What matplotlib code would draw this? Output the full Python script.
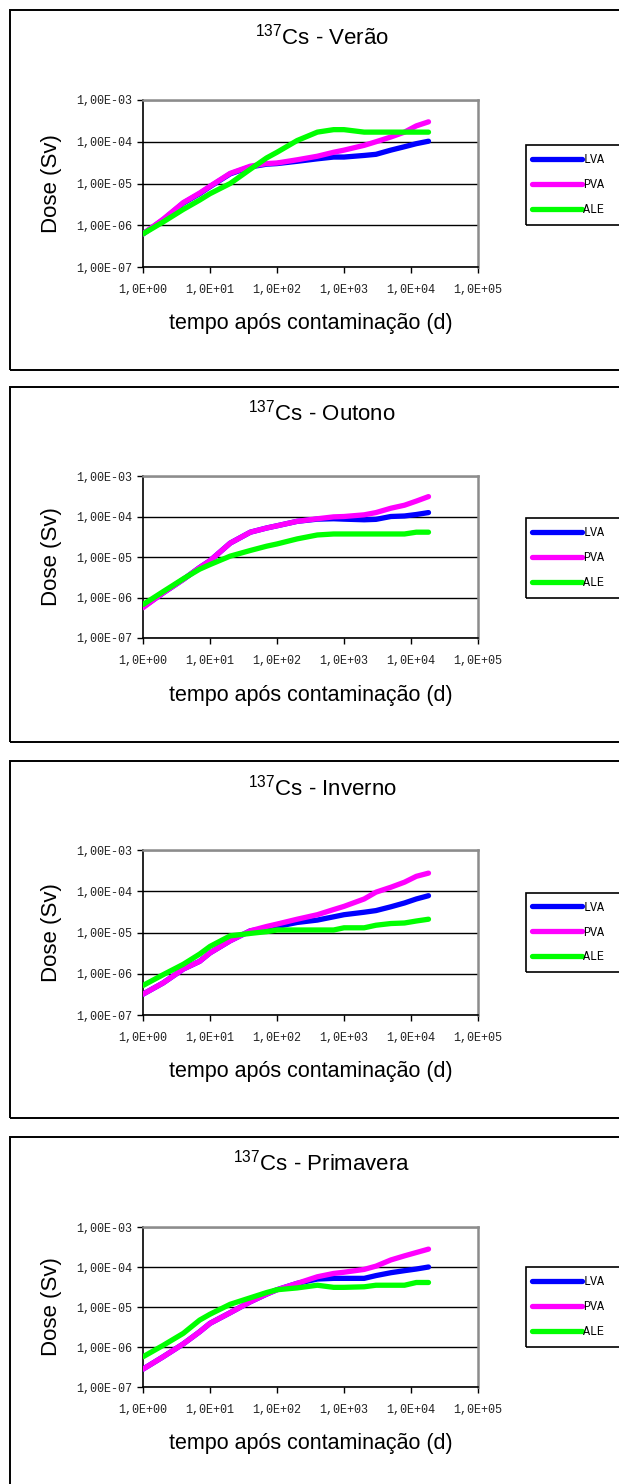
import matplotlib
matplotlib.use("Agg")
import matplotlib.pyplot as plt
from matplotlib.patches import Rectangle

plt.rcParams['font.family'] = ['Liberation Sans', 'DejaVu Sans']
plt.rcParams['mathtext.default'] = 'regular'

# ---- data: committed dose (Sv) of 137Cs vs. time after contamination (days) ----
t_days = [1, 2, 4, 7, 10, 20, 40, 70, 100, 200, 400, 700, 1000, 2000, 3000,
          5000, 8000, 12000, 18250]

soils = ["LVA", "PVA", "ALE"]
seasons = ["Verão", "Outono", "Inverno", "Primavera"]

verao_lva = [6.2e-7, 1.35e-6, 3.4e-6, 5.7e-6, 8.4e-6, 1.7e-5, 2.5e-5, 2.9e-5, 3.0e-5, 3.4e-5,
             3.9e-5, 4.3e-5, 4.3e-5, 4.7e-5, 5.0e-5, 6.3e-5, 7.6e-5, 9.0e-5, 1.03e-4]
verao_pva = [6.2e-7, 1.4e-6, 3.5e-6, 5.9e-6, 8.6e-6, 1.75e-5, 2.6e-5, 3.0e-5, 3.1e-5, 3.7e-5,
             4.5e-5, 5.6e-5, 6.3e-5, 8.2e-5, 1.0e-4, 1.3e-4, 1.7e-4, 2.4e-4, 3.0e-4]
verao_ale = [6.2e-7, 1.2e-6, 2.4e-6, 4.0e-6, 5.7e-6, 1.0e-5, 2.2e-5, 4.1e-5, 5.6e-5, 1.07e-4,
             1.7e-4, 1.95e-4, 1.95e-4, 1.7e-4, 1.7e-4, 1.7e-4, 1.7e-4, 1.7e-4, 1.7e-4]

outono_lva = [5.8e-7, 1.3e-6, 2.8e-6, 5.5e-6, 8.1e-6, 2.2e-5, 4.1e-5, 5.2e-5, 5.9e-5, 7.6e-5,
              8.6e-5, 8.8e-5, 8.6e-5, 8.3e-5, 8.5e-5, 1.0e-4, 1.03e-4, 1.12e-4, 1.25e-4]
outono_pva = [5.6e-7, 1.3e-6, 2.8e-6, 5.5e-6, 8.1e-6, 2.2e-5, 4.1e-5, 5.2e-5, 5.9e-5, 7.6e-5,
              8.8e-5, 9.8e-5, 1.0e-4, 1.1e-4, 1.25e-4, 1.6e-4, 1.9e-4, 2.4e-4, 3.1e-4]
outono_ale = [6.7e-7, 1.4e-6, 2.9e-6, 5.0e-6, 6.5e-6, 1.05e-5, 1.45e-5, 1.85e-5, 2.1e-5, 2.8e-5,
              3.5e-5, 3.7e-5, 3.7e-5, 3.7e-5, 3.7e-5, 3.7e-5, 3.7e-5, 4.1e-5, 4.1e-5]

inverno_lva = [3.2e-7, 6.0e-7, 1.3e-6, 2.0e-6, 3.2e-6, 6.3e-6, 1.1e-5, 1.25e-5, 1.4e-5, 1.75e-5,
               2.0e-5, 2.4e-5, 2.7e-5, 3.1e-5, 3.4e-5, 4.2e-5, 5.2e-5, 6.5e-5, 7.8e-5]
inverno_pva = [3.2e-7, 6.0e-7, 1.3e-6, 2.0e-6, 3.2e-6, 6.3e-6, 1.1e-5, 1.4e-5, 1.6e-5, 2.1e-5,
               2.7e-5, 3.6e-5, 4.3e-5, 6.5e-5, 9.5e-5, 1.25e-4, 1.66e-4, 2.3e-4, 2.75e-4]
inverno_ale = [5.2e-7, 9.5e-7, 1.7e-6, 3.0e-6, 4.6e-6, 8.3e-6, 9.5e-6, 1.05e-5, 1.15e-5, 1.15e-5,
               1.15e-5, 1.15e-5, 1.3e-5, 1.3e-5, 1.5e-5, 1.65e-5, 1.7e-5, 1.9e-5, 2.1e-5]

primavera_lva = [2.8e-7, 5.7e-7, 1.2e-6, 2.4e-6, 3.9e-6, 7.2e-6, 1.35e-5, 2.1e-5, 2.7e-5, 3.9e-5,
                 5.0e-5, 5.2e-5, 5.2e-5, 5.2e-5, 6.1e-5, 7.2e-5, 8.1e-5, 8.9e-5, 1.0e-4]
primavera_pva = [2.8e-7, 5.7e-7, 1.2e-6, 2.4e-6, 3.9e-6, 7.2e-6, 1.35e-5, 2.1e-5, 2.7e-5, 3.9e-5,
                 5.7e-5, 6.9e-5, 7.4e-5, 8.7e-5, 1.05e-4, 1.5e-4, 1.9e-4, 2.3e-4, 2.8e-4]
primavera_ale = [5.7e-7, 1.1e-6, 2.2e-6, 4.7e-6, 6.6e-6, 1.17e-5, 1.7e-5, 2.3e-5, 2.7e-5, 3.0e-5,
                 3.5e-5, 3.1e-5, 3.1e-5, 3.2e-5, 3.5e-5, 3.5e-5, 3.5e-5, 4.1e-5, 4.1e-5]

x_ticks = [1e0, 1e1, 1e2, 1e3, 1e4, 1e5]
x_tick_labels = ["1,0E+00", "1,0E+01", "1,0E+02", "1,0E+03", "1,0E+04", "1,0E+05"]
y_ticks = [1e-7, 1e-6, 1e-5, 1e-4, 1e-3]
y_tick_labels = ["1,00E-07", "1,00E-06", "1,00E-05", "1,00E-04", "1,00E-03"]

x_label = "tempo após contaminação (d)"
y_label = "Dose (Sv)"

series = {
    "Verão": (verao_lva, verao_pva, verao_ale),
    "Outono": (outono_lva, outono_pva, outono_ale),
    "Inverno": (inverno_lva, inverno_pva, inverno_ale),
    "Primavera": (primavera_lva, primavera_pva, primavera_ale),
}
colors = ["#0000FF", "#FF00FF", "#00FF00"]

# ---- figure layout (pixel units) ----
W, H = 619, 1484
fig = plt.figure(figsize=(W / 100, H / 100), dpi=100)


def fx(px):
    return px / W


def fy(py):
    return 1 - py / H


# per panel: frame top/bottom, plot top/bottom, title y, x-label y, legend top/bottom
layout = {
    "Verão":     dict(frame=(10, 370),   plot=(100, 267),   title=37,   xlab=323,  leg=(145, 225)),
    "Outono":    dict(frame=(387, 742),  plot=(476, 638),   title=413,  xlab=696,  leg=(518, 598)),
    "Inverno":   dict(frame=(761, 1118), plot=(850, 1015),  title=788,  xlab=1071, leg=(893, 972)),
    "Primavera": dict(frame=(1137, 1500), plot=(1227, 1387), title=1163, xlab=1444, leg=(1267, 1347)),
}
plot_left, plot_right = 143, 478
mono = "Liberation Mono"

for season in seasons:
    lay = layout[season]
    ftop, fbot = lay["frame"]
    fig.add_artist(Rectangle((fx(10), fy(fbot)), (660 - 10) / W, (fbot - ftop) / H,
                             transform=fig.transFigure, fill=False, lw=1.4, ec="black"))

    ptop, pbot = lay["plot"]
    ax = fig.add_axes([fx(plot_left), fy(pbot), (plot_right - plot_left) / W, (pbot - ptop) / H])
    ax.set_xscale("log")
    ax.set_yscale("log")
    ax.set_xlim(1, 1e5)
    ax.set_ylim(1e-7, 1e-3)

    handles = []
    for name, vals, c in zip(soils, series[season], colors):
        ln, = ax.plot(t_days, vals, color=c, lw=3.8, solid_capstyle="round",
                      solid_joinstyle="round", label=name, zorder=3)
        handles.append(ln)

    ax.set_xticks(x_ticks)
    ax.set_xticklabels(x_tick_labels, fontfamily=mono, fontsize=8.5)
    ax.set_yticks(y_ticks)
    ax.set_yticklabels(y_tick_labels, fontfamily=mono, fontsize=8.5)
    ax.minorticks_off()
    ax.tick_params(axis="x", direction="out", length=4, width=1, pad=8, colors="black",
                   labelcolor="#222222")
    ax.tick_params(axis="y", direction="out", length=4, width=1, pad=4, colors="black",
                   labelcolor="#222222")
    ax.grid(axis="y", color="black", lw=1.0, zorder=1)
    ax.grid(axis="x", visible=False)
    for side in ("left", "bottom"):
        ax.spines[side].set_color("black")
        ax.spines[side].set_linewidth(1.2)
    for side in ("top", "right"):
        ax.spines[side].set_color("#8c8c8c")
        ax.spines[side].set_linewidth(1.8)

    fig.text(fx(322), fy(lay["title"]), "$^{137}$Cs - " + season, ha="center", va="center",
             fontsize=16)
    fig.text(fx(311), fy(lay["xlab"]), x_label, ha="center", va="center", fontsize=15.5)
    fig.text(fx(51), fy((ptop + pbot) / 2), y_label, ha="center", va="center",
             rotation=90, fontsize=16)

    ltop, lbot = lay["leg"]
    fig.add_artist(Rectangle((fx(526), fy(lbot)), (660 - 526) / W, (lbot - ltop) / H,
                             transform=fig.transFigure, fill=False, lw=1.2, ec="black"))
    ax.legend(handles=handles, labels=soils, loc="center left",
              bbox_to_anchor=(fx(532), fy((ltop + lbot) / 2)), bbox_transform=fig.transFigure,
              frameon=False, borderpad=0, borderaxespad=0, handlelength=4.2,
              handletextpad=0.15, labelspacing=1.1, prop=dict(family=mono, size=8.5))

fig.savefig("out.png", dpi=100)
